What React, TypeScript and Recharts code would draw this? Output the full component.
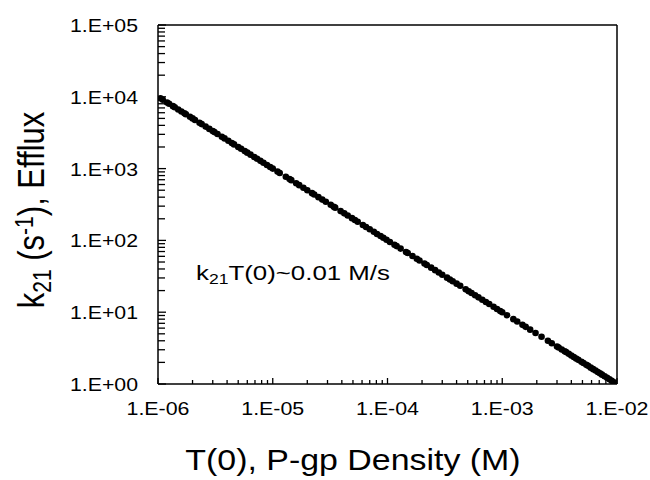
import { ScatterChart, Scatter, XAxis, YAxis, ReferenceLine } from "recharts";

// T(0) values (M) and k21 values (1/s)
const tDensity = [
  1.05e-6, 1.1e-6, 1.2e-6, 1.25e-6, 1.35e-6, 1.4e-6, 1.5e-6, 1.6e-6, 1.7e-6, 1.75e-6, 1.9e-6, 2.0e-6,
  2.1e-6, 2.3e-6, 2.4e-6, 2.6e-6, 2.8e-6, 3.0e-6, 3.1e-6, 3.3e-6, 3.6e-6, 3.8e-6, 4.1e-6, 4.4e-6,
  4.6e-6, 5.0e-6, 5.3e-6, 5.7e-6, 6.0e-6, 6.4e-6, 6.9e-6, 7.3e-6, 7.8e-6, 8.3e-6, 8.9e-6, 9.5e-6,
  1.0e-5, 1.1e-5, 1.15e-5, 1.3e-5, 1.4e-5, 1.45e-5, 1.6e-5, 1.7e-5, 1.85e-5, 2.0e-5, 2.2e-5, 2.3e-5,
  2.5e-5, 2.7e-5, 2.9e-5, 3.2e-5, 3.4e-5, 3.5e-5, 3.9e-5, 4.2e-5, 4.5e-5, 4.9e-5, 5.2e-5, 5.5e-5,
  6.1e-5, 6.5e-5, 7.0e-5, 7.6e-5, 8.1e-5, 8.7e-5, 9.2e-5, 9.8e-5,
  1.05e-4, 1.15e-4, 1.2e-4, 1.3e-4, 1.45e-4, 1.5e-4, 1.65e-4, 1.8e-4, 1.9e-4, 2.1e-4, 2.2e-4, 2.4e-4,
  2.6e-4, 2.8e-4, 3.0e-4, 3.3e-4, 3.5e-4, 3.7e-4, 4.0e-4, 4.3e-4, 4.8e-4, 5.1e-4, 5.4e-4, 5.8e-4,
  6.2e-4, 6.7e-4, 7.2e-4, 7.7e-4, 8.4e-4, 9.0e-4, 9.6e-4,
  1.0e-3, 1.1e-3, 1.25e-3, 1.35e-3, 1.5e-3, 1.6e-3, 1.75e-3, 1.95e-3, 2.2e-3, 2.5e-3, 2.7e-3, 3.0e-3,
  3.1e-3, 3.3e-3, 3.5e-3, 3.6e-3, 3.8e-3, 4.0e-3, 4.2e-3, 4.4e-3, 4.6e-3, 4.9e-3, 5.1e-3, 5.4e-3,
  5.6e-3, 5.9e-3, 6.2e-3, 6.5e-3, 6.8e-3, 7.1e-3, 7.4e-3, 7.8e-3, 8.2e-3, 8.6e-3, 9.0e-3, 9.4e-3,
  9.7e-3, 1.0e-2,
];
const k21 = [
  9524, 9091, 8333, 8000, 7407, 7143, 6667, 6250, 5882, 5714, 5263, 5000,
  4762, 4348, 4167, 3846, 3571, 3333, 3226, 3030, 2778, 2632, 2439, 2273,
  2174, 2000, 1887, 1754, 1667, 1563, 1449, 1370, 1282, 1205, 1124, 1053,
  1000, 909, 870, 769, 714, 690, 625, 588, 541, 500, 455, 435,
  400, 370, 345, 313, 294, 286, 256, 238, 222, 204, 192, 182,
  164, 154, 143, 132, 123, 115, 109, 102,
  95.2, 87.0, 83.3, 76.9, 69.0, 66.7, 60.6, 55.6, 52.6, 47.6, 45.5, 41.7,
  38.5, 35.7, 33.3, 30.3, 28.6, 27.0, 25.0, 23.3, 20.8, 19.6, 18.5, 17.2,
  16.1, 14.9, 13.9, 13.0, 11.9, 11.1, 10.4,
  10.0, 9.09, 8.0, 7.41, 6.67, 6.25, 5.71, 5.13, 4.55, 4.0, 3.7, 3.33,
  3.23, 3.03, 2.86, 2.78, 2.63, 2.5, 2.38, 2.27, 2.17, 2.04, 1.96, 1.85,
  1.79, 1.69, 1.61, 1.54, 1.47, 1.41, 1.35, 1.28, 1.22, 1.16, 1.11, 1.06,
  1.03, 1.0,
];

const xDecades = [1e-6, 1e-5, 1e-4, 1e-3, 1e-2];
const yDecades = [1, 10, 100, 1000, 1e4, 1e5];
const minorSteps = [2, 3, 4, 5, 6, 7, 8, 9];

const withMinor = (decades: number[]) => [
  ...decades,
  ...decades.slice(0, -1).flatMap((d) => minorSteps.map((m) => m * d)),
];

const points = tDensity.map((t, i) => ({ t, k: k21[i] }));

const FONT = "'Liberation Sans', Arial, sans-serif";

const isMajor = (v: number) => {
  const l = Math.log10(v);
  return Math.abs(l - Math.round(l)) < 1e-6;
};

const fmt = (v: number) => {
  const e = Math.round(Math.log10(v));
  return `1.E${e < 0 ? "-" : "+"}${String(Math.abs(e)).padStart(2, "0")}`;
};

const XTick = (props: any) => {
  const { x, y, payload } = props;
  const major = isMajor(payload.value);
  return (
    <g>
      <line x1={x} x2={x} y1={y} y2={y - (major ? 6 : 4)} stroke="#000" strokeWidth={1.3} />
      {major && (
        <text
          x={x}
          y={y + 31}
          textAnchor="middle"
          fontSize={19}
          fontFamily={FONT}
          fill="#000"
          textLength={63}
          lengthAdjust="spacingAndGlyphs"
        >
          {fmt(payload.value)}
        </text>
      )}
    </g>
  );
};

const YTick = (props: any) => {
  const { x, y, payload } = props;
  const major = isMajor(payload.value);
  return (
    <g>
      <line x1={x} x2={x + (major ? 8 : 7)} y1={y} y2={y} stroke="#000" strokeWidth={1.3} />
      {major && (
        <text
          x={x - 20}
          y={y + 7}
          textAnchor="end"
          fontSize={19}
          fontFamily={FONT}
          fill="#000"
          textLength={68}
          lengthAdjust="spacingAndGlyphs"
        >
          {fmt(payload.value)}
        </text>
      )}
    </g>
  );
};

const Dot = (props: any) => <circle cx={props.cx} cy={props.cy} r={3.3} fill="#000" />;

const sub = { fontSize: "0.68em", position: "relative" as const, top: "0.3em" };
const sup = { fontSize: "0.68em", position: "relative" as const, top: "-0.45em" };

export default function App() {
  return (
    <div style={{ position: "absolute", left: 0, top: 0, width: 650, height: 480, background: "#fff" }}>
      <ScatterChart width={650} height={480} margin={{ top: 25, right: 33, bottom: 56, left: 98 }}>
        <XAxis
          type="number"
          dataKey="t"
          scale="log"
          domain={[1e-6, 1e-2]}
          ticks={withMinor(xDecades)}
          interval={0}
          tick={<XTick />}
          tickLine={false}
          tickSize={0}
          tickMargin={0}
          height={40}
          axisLine={{ stroke: "#000", strokeWidth: 1.5 }}
          allowDataOverflow
        />
        <YAxis
          type="number"
          dataKey="k"
          scale="log"
          domain={[1, 1e5]}
          ticks={withMinor(yDecades)}
          interval={0}
          tick={<YTick />}
          tickLine={false}
          tickSize={0}
          tickMargin={0}
          width={60}
          axisLine={{ stroke: "#000", strokeWidth: 1.5 }}
          allowDataOverflow
        />
        <ReferenceLine y={1e5} stroke="#000" strokeWidth={1.5} />
        <ReferenceLine x={1e-2} stroke="#000" strokeWidth={1.5} />
        <Scatter data={points} fill="#000" shape={<Dot />} isAnimationActive={false} />
      </ScatterChart>

      <div
        style={{
          position: "absolute",
          left: 31,
          top: 210,
          transform: "translate(-50%, -50%) rotate(-90deg) scaleY(1.2)",
          fontFamily: FONT,
          fontSize: 31,
          lineHeight: 1,
          whiteSpace: "nowrap",
          color: "#000",
        }}
      >
        k<span style={sub}>21</span> (s<span style={sup}>-1</span>), Efflux
      </div>

      <div
        style={{
          position: "absolute",
          left: 353,
          top: 460,
          transform: "translate(-50%, -50%) scaleX(1.13)",
          fontFamily: FONT,
          fontSize: 30,
          lineHeight: 1,
          whiteSpace: "nowrap",
          color: "#000",
        }}
      >
        T(0), P-gp Density (M)
      </div>

      <div
        style={{
          position: "absolute",
          left: 196,
          top: 262,
          transform: "scaleX(1.23)",
          transformOrigin: "left top",
          fontFamily: FONT,
          fontSize: 21,
          lineHeight: 1,
          whiteSpace: "nowrap",
          color: "#000",
        }}
      >
        k<span style={sub}>21</span>T(0)~0.01 M/s
      </div>
    </div>
  );
}
